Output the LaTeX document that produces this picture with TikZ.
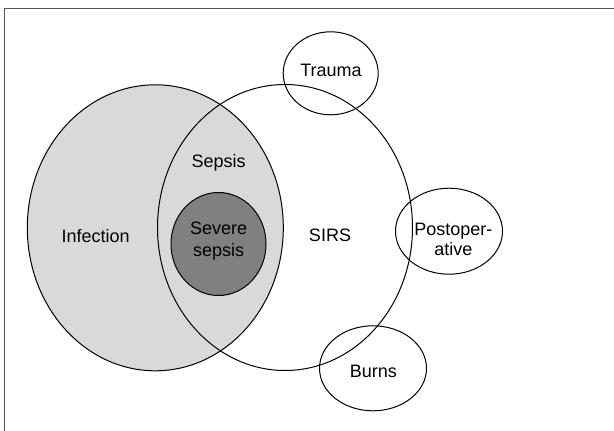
\documentclass[tikz,border=0pt]{standalone}
\usepackage{fontspec}
\setmainfont{Liberation Sans}
\usetikzlibrary{shapes.geometric}
\definecolor{lightfill}{HTML}{D9D9D9}
\definecolor{darkfill}{HTML}{808080}
\definecolor{framegray}{HTML}{555555}

\begin{document}
\begin{tikzpicture}[x=1pt, y=-1pt,
    every node/.style={font=\fontsize{18}{19.5}\selectfont, align=center},
    oval/.style={ellipse, draw, line width=1pt, inner sep=0pt}]

    \useasboundingbox (0, 0) rectangle (614, 431);
    \clip (0, 0) rectangle (614, 431);

    % frame
    \draw [line width=1.4pt, framegray] (4.5, 440) |- (620, 8.7);

    \node [oval, fill=lightfill, minimum width=256, minimum height=286] (a) at (155.3, 227.8) {};
    \node [oval, minimum width=255, minimum height=286] (b) at (285, 227.5) {};
    \node [oval, fill=darkfill, minimum width=95, minimum height=103] (c) at (218.5, 244) {};
    \node [oval, minimum width=95, minimum height=83] (d) at (330.7, 73.3) {};
    \node [oval, minimum width=107, minimum height=86] (e) at (449, 231.2) {};
    \node [oval, minimum width=107, minimum height=85] (f) at (373, 368.3) {};

    \node (g) at (95.7, 235.7) {Infection};
    \node (h) at (218.7, 163.3) {Sepsis};
    \node (i) at (218.7, 241) {Severe\\[3pt] sepsis};
    \node (j) at (330, 235.7) {SIRS};
    \node (k) at (331, 70.7) {Trauma};
    \node (l) at (453.3, 239.3) {Postoper-\\ ative};
    \node (m) at (373.3, 371) {Burns};

  \end{tikzpicture}
\end{document}
